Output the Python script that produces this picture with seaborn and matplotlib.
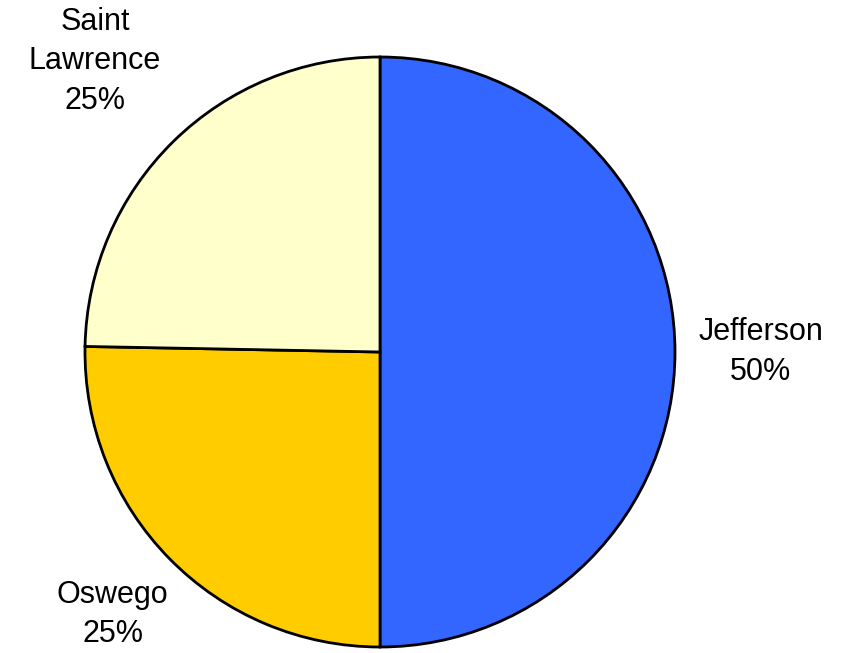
import numpy as np
import matplotlib
matplotlib.use('Agg')
import matplotlib.pyplot as plt
import seaborn as sns

# slice data, clockwise from 12 o'clock
counties = ['Jefferson', 'Oswego', 'Saint\nLawrence']
shares = [50.0, 25.3, 24.7]
colors = ['#3366FF', '#FFCC00', '#FFFFCC']
label_dist = [1.29, 1.27, 1.38]

sns.set_theme(style='white')
plt.rcParams['font.family'] = ['Liberation Sans', 'DejaVu Sans']

W, H = 842, 653
fig = plt.figure(figsize=(W / 100, H / 100), dpi=100)
cx, cy, r = 380, 352, 295
ax = fig.add_axes([(cx - r) / W, (H - cy - r) / H, 2 * r / W, 2 * r / H])

wedges, _ = ax.pie(shares, colors=sns.color_palette(colors), startangle=90,
                   counterclock=False,
                   wedgeprops=dict(edgecolor='black', linewidth=2.0))
ax.set_xlim(-1, 1)
ax.set_ylim(-1, 1)
ax.axis('off')

total = sum(shares)
for w, name, v, d in zip(wedges, counties, shares, label_dist):
    theta = np.deg2rad((w.theta1 + w.theta2) / 2)
    ax.text(d * np.cos(theta), d * np.sin(theta),
            f'{name}\n{round(v / total * 100):.0f}%',
            ha='center', va='center', fontsize=22, color='black',
            linespacing=1.4, clip_on=False)

fig.savefig('out.png', dpi=100)
plt.close(fig)
